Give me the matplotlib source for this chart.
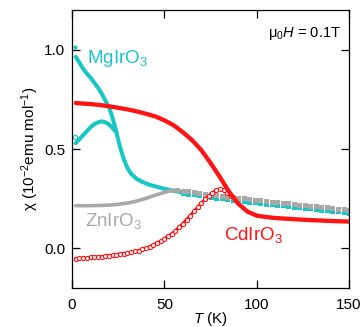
import matplotlib
matplotlib.use("Agg")
import matplotlib.pyplot as plt
import numpy as np

plt.rcParams["font.family"] = ["Liberation Sans", "DejaVu Sans"]
plt.rcParams["mathtext.fontset"] = "custom"
plt.rcParams["mathtext.rm"] = "Liberation Sans"
plt.rcParams["mathtext.it"] = "Liberation Sans:italic"

CYAN = "#17c6c6"
GRAY = "#a8a8a8"
RED = "#ff1414"

# MgIrO3, low-T field-cooled branch
mg_fc_T = [2, 4, 6, 8, 10, 12, 14, 16, 18, 20, 21, 22, 23, 24, 26, 28, 30, 32, 35, 38,
           42, 46, 50, 55, 60]
mg_fc_chi = [0.965, 0.935, 0.905, 0.88, 0.86, 0.835, 0.81, 0.78, 0.745, 0.71, 0.685,
             0.655, 0.62, 0.585, 0.51, 0.45, 0.405, 0.375, 0.35, 0.335, 0.32, 0.31,
             0.30, 0.29, 0.28]
# MgIrO3, zero-field-cooled hump
mg_zfc_T = [2, 4, 6, 8, 10, 12, 14, 16, 18, 20, 22, 24]
mg_zfc_chi = [0.53, 0.55, 0.57, 0.59, 0.61, 0.625, 0.635, 0.64, 0.635, 0.625, 0.605, 0.585]
# MgIrO3, high-T points (sparser)
mg_hi_T = np.arange(60, 151, 3)
mg_hi_chi = [0.280, 0.276, 0.272, 0.268, 0.264, 0.260, 0.256, 0.252, 0.249, 0.245,
             0.242, 0.238, 0.235, 0.232, 0.228, 0.225, 0.222, 0.219, 0.216, 0.213,
             0.210, 0.207, 0.204, 0.201, 0.198, 0.195, 0.192, 0.189, 0.186, 0.183,
             0.179]
mg_first = (1.8, 1.015, 0.56)

# ZnIrO3
zn_lo_T = [2, 5, 10, 15, 20, 25, 30, 35, 40, 45, 50, 53, 57]
zn_lo_chi = [0.215, 0.215, 0.215, 0.216, 0.218, 0.222, 0.228, 0.238, 0.252, 0.268,
             0.282, 0.290, 0.293]
zn_hi_T = np.arange(57, 151, 3)
zn_hi_chi = [0.293, 0.290, 0.287, 0.283, 0.279, 0.275, 0.272, 0.268, 0.265, 0.261,
             0.258, 0.255, 0.252, 0.248, 0.245, 0.242, 0.239, 0.236, 0.233, 0.230,
             0.227, 0.224, 0.221, 0.218, 0.215, 0.212, 0.209, 0.206, 0.203, 0.200,
             0.197, 0.194]

# CdIrO3
cd_fc_T = [2, 5, 10, 15, 20, 25, 30, 35, 40, 45, 50, 55, 60, 65, 70, 75, 80, 85, 90,
           95, 100, 105, 110, 120, 130, 140, 150]
cd_fc_chi = [0.732, 0.73, 0.727, 0.722, 0.716, 0.708, 0.70, 0.69, 0.678, 0.665, 0.645,
             0.62, 0.585, 0.545, 0.495, 0.43, 0.36, 0.285, 0.225, 0.185, 0.165, 0.158,
             0.153, 0.147, 0.142, 0.138, 0.135]
cd_zfc_T = np.arange(2, 87, 2)
cd_zfc_chi = [-0.052, -0.050, -0.049, -0.047, -0.045, -0.044, -0.042, -0.041, -0.039,
              -0.036, -0.034, -0.031, -0.029, -0.026, -0.023, -0.019, -0.015, -0.011,
              -0.005, 0.002, 0.009, 0.017, 0.027, 0.037, 0.048, 0.061, 0.074, 0.089,
              0.106, 0.125, 0.145, 0.165, 0.186, 0.207, 0.228, 0.248, 0.265, 0.280,
              0.292, 0.298, 0.294, 0.281, 0.266]

fig = plt.figure(figsize=(3.64, 3.27), dpi=100)
ax = fig.add_axes([0.198, 0.119, 0.761, 0.850])

# MgIrO3
ax.plot(mg_zfc_T, mg_zfc_chi, color=CYAN, lw=2.9, solid_capstyle="round")
ax.plot(mg_fc_T, mg_fc_chi, color=CYAN, lw=2.9, solid_capstyle="round")
ax.plot(mg_hi_T, mg_hi_chi, "s", color=CYAN, ms=3.6, mew=0)
ax.plot(mg_first[0], mg_first[1], "o", color=CYAN, ms=3, mew=0)
ax.plot(mg_first[0], mg_first[2], "o", mfc="white", mec=CYAN, ms=3, mew=0.8)

# ZnIrO3
ax.plot(zn_lo_T, zn_lo_chi, color=GRAY, lw=2.6, solid_capstyle="round")
ax.plot(zn_hi_T, zn_hi_chi, "s", color=GRAY, ms=3.6, mew=0)

# CdIrO3 (open-circle chain for ZFC, thick line for FC)
ax.plot(cd_zfc_T, cd_zfc_chi, "-o", color=RED, lw=2.2, mfc="white", mec=RED,
        ms=3.0, mew=0.8)
ax.plot(cd_fc_T, cd_fc_chi, color=RED, lw=3.1, solid_capstyle="round")

ax.set_xlim(0, 150)
ax.set_ylim(-0.2, 1.2)
ax.set_xticks([0, 50, 100, 150])
ax.set_yticks([0.0, 0.5, 1.0])
ax.set_yticklabels(["0.0", "0.5", "1.0"])
ax.tick_params(direction="in", length=6, width=0.9, top=True, right=True,
               labelsize=11, pad=5)
ax.tick_params(axis="x", pad=7)
for s in ax.spines.values():
    s.set_linewidth(0.9)

ax.set_xlabel("$T$ (K)", fontsize=11, labelpad=-1)
ax.set_ylabel("χ (10$^{-2}$emu mol$^{-1}$)", fontsize=11, labelpad=2)

ax.text(8, 0.934, "MgIrO$_3$", color=CYAN, fontsize=13.5, va="baseline", ha="left")
ax.text(7, 0.111, "ZnIrO$_3$", color=GRAY, fontsize=13.5, va="baseline", ha="left")
ax.text(82.5, 0.04, "CdIrO$_3$", color=RED, fontsize=13.5, va="baseline", ha="left")
ax.text(145.7, 1.067, "μ$_0$$H$ = 0.1T", fontsize=10.5, va="baseline", ha="right")

fig.savefig("out.png", dpi=100)
